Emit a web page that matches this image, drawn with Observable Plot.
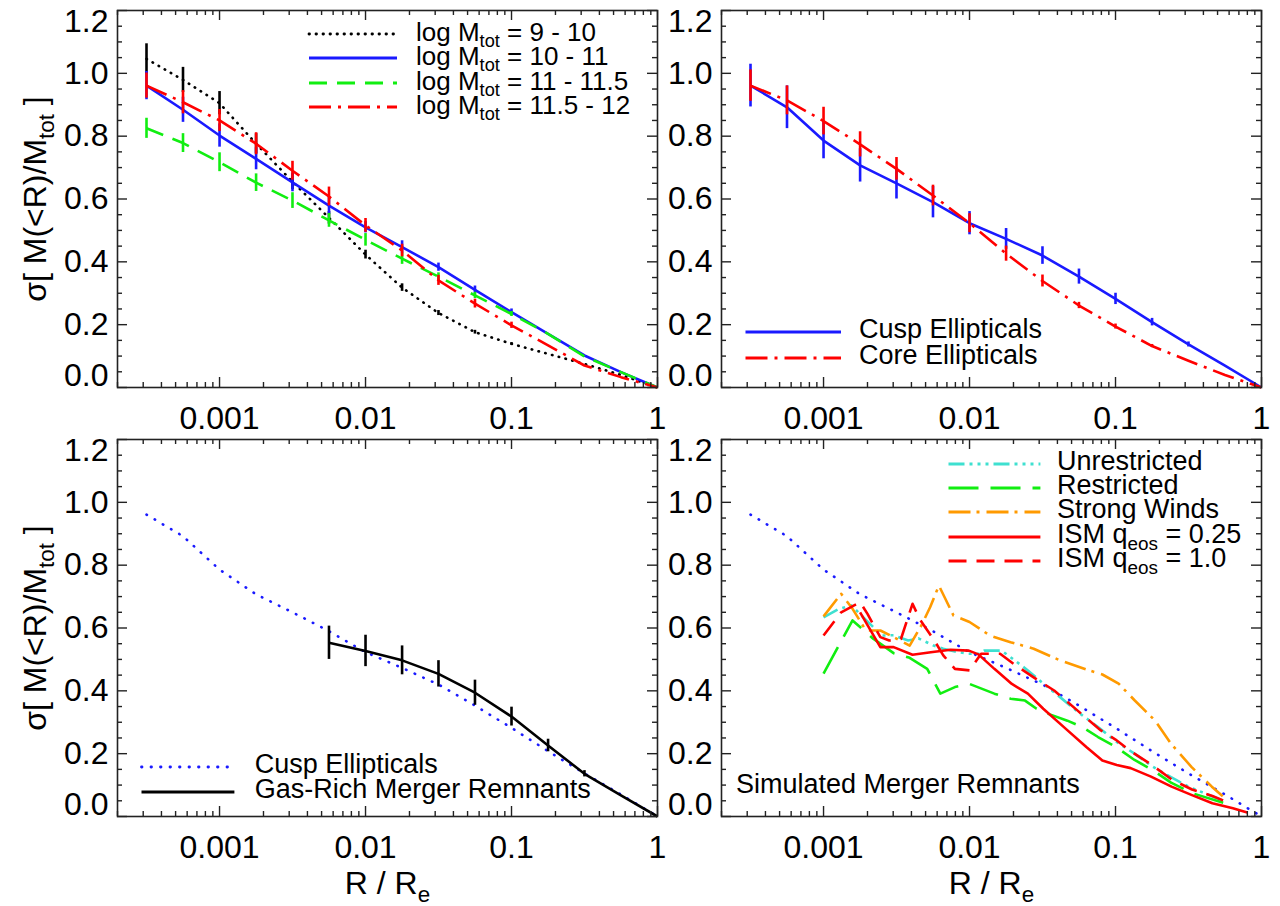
<!DOCTYPE html>
<html>
<head>
<meta charset="utf-8">
<script src="https://cdn.jsdelivr.net/npm/d3@7"></script>
<script src="https://cdn.jsdelivr.net/npm/@observablehq/plot@0.6"></script>
<style>
  html, body { margin: 0; padding: 0; background: #fff; }
  #chart { position: relative; width: 1280px; height: 906px; overflow: hidden; background: #fff; }
  #chart svg { position: absolute; overflow: visible; }
</style>
</head>
<body>
<div id="chart"></div>
<script>
// ---------------- data ----------------
const R = [0.000316, 0.000562, 0.001, 0.00178, 0.00316, 0.00562, 0.01, 0.0178, 0.0316, 0.0562, 0.1, 0.178, 0.316, 0.562, 1];

// Panel 1: mass bins
const mass9_10     = [1.046, 0.979, 0.905, 0.776, 0.655, 0.540, 0.423, 0.318, 0.237, 0.176, 0.139, 0.107, 0.075, 0.040, 0];
const mass9_10Err  = [0.048, 0.040, 0.037, 0.032, 0.025, 0.020, 0.014, 0.012, 0.008, 0.006, 0.004, 0, 0, 0, 0];
const mass10_11    = [0.961, 0.884, 0.802, 0.728, 0.653, 0.579, 0.510, 0.447, 0.383, 0.311, 0.240, 0.171, 0.102, 0.049, 0];
const mass10_11Err = [0.045, 0.040, 0.037, 0.035, 0.030, 0.028, 0.018, 0.020, 0.013, 0.012, 0.010, 0, 0, 0, 0];
const mass11_115   = [0.825, 0.778, 0.717, 0.652, 0.595, 0.532, 0.470, 0.410, 0.353, 0.293, 0.234, 0.171, 0.099, 0.049, 0];
const mass11_115Err= [0.032, 0.030, 0.030, 0.028, 0.025, 0.022, 0.020, 0.018, 0.012, 0.010, 0.008, 0, 0, 0, 0];
const mass115_12   = [0.961, 0.908, 0.850, 0.776, 0.690, 0.608, 0.516, 0.436, 0.341, 0.267, 0.198, 0.134, 0.070, 0.033, 0];
const mass115_12Err= [0.040, 0.037, 0.035, 0.035, 0.030, 0.030, 0.022, 0.020, 0.016, 0.014, 0.010, 0, 0, 0, 0];

// Panel 2: cusp / core ellipticals
const cusp    = [0.961, 0.892, 0.786, 0.707, 0.650, 0.590, 0.523, 0.473, 0.420, 0.353, 0.282, 0.208, 0.137, 0.070, 0];
const cuspErr = [0.068, 0.068, 0.058, 0.053, 0.050, 0.050, 0.037, 0.033, 0.028, 0.024, 0.018, 0.012, 0.008, 0, 0];
const core    = [0.961, 0.914, 0.848, 0.774, 0.696, 0.611, 0.523, 0.426, 0.339, 0.261, 0.194, 0.132, 0.085, 0.040, 0];
const coreErr = [0.050, 0.046, 0.044, 0.040, 0.036, 0.033, 0.030, 0.024, 0.019, 0.010, 0.008, 0.005, 0, 0, 0];

// Panel 3: gas-rich merger remnants
const gasR   = [0.00562, 0.01, 0.0178, 0.0316, 0.0562, 0.1, 0.178, 0.316, 0.562, 1];
const gasV   = [0.553, 0.527, 0.497, 0.454, 0.394, 0.318, 0.226, 0.136, 0.067, 0];
const gasErr = [0.053, 0.050, 0.046, 0.042, 0.040, 0.030, 0.020, 0.010, 0, 0];

// Panel 4: simulated remnants
const unrestrR = [0.00100, 0.00126, 0.00155, 0.00191, 0.00219, 0.00251, 0.00302, 0.00380, 0.00447, 0.00562, 0.00661, 0.00794, 0.00977, 0.0117, 0.0126, 0.0166, 0.0191, 0.0251, 0.0316, 0.0417, 0.0562, 0.0759, 0.100, 0.135, 0.178, 0.240, 0.316, 0.427, 0.562];
const unrestrV = [0.634, 0.660, 0.672, 0.630, 0.603, 0.576, 0.577, 0.560, 0.567, 0.545, 0.534, 0.525, 0.518, 0.518, 0.528, 0.528, 0.507, 0.465, 0.425, 0.380, 0.330, 0.285, 0.240, 0.200, 0.160, 0.125, 0.095, 0.070, 0.048];

const restrR = [0.00100, 0.00158, 0.00219, 0.00302, 0.00389, 0.00513, 0.00631, 0.00794, 0.0100, 0.0148, 0.0191, 0.0240, 0.0288, 0.0355, 0.0468, 0.0589, 0.0759, 0.100, 0.135, 0.178, 0.240, 0.331, 0.575];
const restrV = [0.455, 0.624, 0.566, 0.520, 0.505, 0.470, 0.391, 0.412, 0.422, 0.391, 0.375, 0.369, 0.343, 0.325, 0.305, 0.285, 0.253, 0.222, 0.180, 0.149, 0.108, 0.075, 0.041];

const windsR = [0.00100, 0.00132, 0.00158, 0.00195, 0.00245, 0.00302, 0.00389, 0.00468, 0.00537, 0.00617, 0.00776, 0.0100, 0.0138, 0.0191, 0.0275, 0.0417, 0.0631, 0.0813, 0.105, 0.135, 0.186, 0.240, 0.331, 0.457, 0.562];
const windsV = [0.637, 0.709, 0.661, 0.592, 0.592, 0.571, 0.544, 0.608, 0.666, 0.735, 0.640, 0.619, 0.576, 0.555, 0.534, 0.497, 0.468, 0.452, 0.423, 0.370, 0.306, 0.232, 0.158, 0.095, 0.058];

const ism025R = [0.00178, 0.00245, 0.00302, 0.00407, 0.00543, 0.00741, 0.00989, 0.0115, 0.0148, 0.0195, 0.0251, 0.0320, 0.0457, 0.0631, 0.0813, 0.102, 0.127, 0.175, 0.242, 0.334, 0.461, 0.637, 0.798];
const ism025V = [0.650, 0.539, 0.539, 0.515, 0.523, 0.531, 0.528, 0.516, 0.470, 0.422, 0.391, 0.343, 0.279, 0.221, 0.178, 0.164, 0.154, 0.127, 0.095, 0.068, 0.042, 0.026, 0.013];

const ism10R = [0.00100, 0.00132, 0.00178, 0.00200, 0.00245, 0.00282, 0.00339, 0.00407, 0.00457, 0.00575, 0.00661, 0.00794, 0.0100, 0.0120, 0.0162, 0.0200, 0.0275, 0.0380, 0.0550, 0.0794, 0.100, 0.127, 0.175, 0.242, 0.334, 0.461, 0.597];
const ism10V = [0.576, 0.650, 0.682, 0.645, 0.571, 0.560, 0.565, 0.677, 0.627, 0.560, 0.513, 0.470, 0.465, 0.518, 0.518, 0.486, 0.443, 0.401, 0.337, 0.274, 0.245, 0.208, 0.166, 0.118, 0.086, 0.065, 0.044];

// tick labels
const xTickLabels = [0.001, 0.01, 0.1, 1];
const yTickLabels = [0, 0.2, 0.4, 0.6, 0.8, 1.0, 1.2];

// ---------------- styling ----------------
const FONT = '"Liberation Sans", Arial, Helvetica, sans-serif';
const INK = "#222";
const BLUE = "#1a1aff", RED = "#ff0000", GREEN = "#11ee11", CYAN = "#3ee0d0", ORANGE = "#ff9a00", BLACK = "#000";
const DOT = "0.5,6.5", DASH = "18,10", DASHDOT = "22,7,3,7", LONGDASH = "30,12", DASH3DOT = "16,5,3,5,3,5,3,5", ODASHDOT = "22,6,3,7";
const LW = 2.6;

const xDomain = [2e-4, 1];
const yDomain = [0, 1.2];
const isDecade = d => Math.abs(Math.log10(d) - Math.round(Math.log10(d))) < 1e-9;
const xAllTicks = d3.scaleLog().domain(xDomain).ticks();
const xMinor = xAllTicks.filter(d => !isDecade(d));
const xMajor = xAllTicks.filter(d => isDecade(d));
const yAll = d3.range(0, 24 + 1).map(i => i * 0.05);
const yMinor = yAll.filter((d, i) => i % 4 !== 0);
const yMajor = yAll.filter((d, i) => i % 4 === 0);

const rows = (xs, ys, es) => xs.map((r, i) => ({r, v: ys[i], e: es ? es[i] : 0}));

function series(xs, ys, es, stroke, dash, cap = "butt") {
  const d = rows(xs, ys, es);
  const m = [Plot.line(d, {x: "r", y: "v", stroke, strokeWidth: LW, strokeDasharray: dash, strokeLinecap: cap, strokeLinejoin: "round"})];
  if (es) m.push(Plot.ruleX(d.filter(p => p.e > 0), {x: "r", y1: p => p.v - p.e, y2: p => p.v + p.e, stroke, strokeWidth: LW}));
  return m;
}

function subscripts(svg) {
  svg.querySelectorAll("text").forEach(t => {
    const s = t.textContent;
    if (!s.includes("_{")) return;
    const parts = s.split(/_\{([^}]*)\}/);
    while (t.firstChild) t.removeChild(t.firstChild);
    let afterSub = false;
    parts.forEach((p, i) => {
      if (p === "" && i % 2 === 0) return;
      const ts = document.createElementNS("http://www.w3.org/2000/svg", "tspan");
      ts.textContent = p;
      if (i % 2 === 1) { ts.setAttribute("font-size", "70%"); ts.setAttribute("dy", "0.35em"); afterSub = true; }
      else if (afterSub) { ts.setAttribute("dy", "-0.245em"); afterSub = false; }
      t.appendChild(ts);
    });
  });
}

function legend(svg, items, {x1, x2, xt, ys, off = 7, size = 27}) {
  const g = d3.select(svg).append("g").attr("font-family", FONT).attr("font-size", size).attr("text-anchor", "start").attr("fill", "#000");
  items.forEach((it, i) => {
    g.append("line").attr("x1", x1).attr("x2", x2).attr("y1", ys[i]).attr("y2", ys[i])
      .attr("stroke", it.stroke).attr("stroke-width", 2.8)
      .attr("stroke-dasharray", it.dash || null)
      .attr("stroke-linecap", it.cap || "butt");
    g.append("text").attr("x", xt).attr("y", ys[i] + off).text(it.label);
  });
  return g;
}

function panel({left, top, width, height, mL, mR, mT, mB, data, yTitle, xTitle}) {
  const W = width - mL - mR, H = height - mT - mB;
  const tickStyle = {stroke: INK, strokeWidth: 1.4};
  const lab = {fontSize: 32, fontFamily: FONT, fill: "#000", label: null, tickSize: 0};
  const marks = [
    ...data,
    Plot.tickX(xMinor, {x: d => d, insetTop: H - 5, ...tickStyle}),
    Plot.tickX(xMinor, {x: d => d, insetBottom: H - 5, ...tickStyle}),
    Plot.tickX(xMajor, {x: d => d, insetTop: H - 10, ...tickStyle}),
    Plot.tickX(xMajor, {x: d => d, insetBottom: H - 10, ...tickStyle}),
    Plot.tickY(yMinor, {y: d => d, insetRight: W - 5, ...tickStyle}),
    Plot.tickY(yMinor, {y: d => d, insetLeft: W - 5, ...tickStyle}),
    Plot.tickY(yMajor, {y: d => d, insetRight: W - 10, ...tickStyle}),
    Plot.tickY(yMajor, {y: d => d, insetLeft: W - 10, ...tickStyle}),
    Plot.frame({stroke: INK, strokeWidth: 1.6}),
    Plot.axisX(xTickLabels, {anchor: "bottom", tickPadding: 19, tickFormat: d3.format("~g"), ...lab}),
    Plot.axisY(yTickLabels.filter(d => d > 0 && d < 1.2), {anchor: "left", tickPadding: 9, tickFormat: d3.format(".1f"), ...lab}),
    Plot.axisY([1.2], {anchor: "left", tickPadding: 9, tickFormat: d3.format(".1f"), dy: 11, ...lab}),
    Plot.axisY([0], {anchor: "left", tickPadding: 9, tickFormat: d3.format(".1f"), dy: -12, ...lab})
  ];
  if (yTitle) marks.push(Plot.text([yTitle], {text: d => d, frameAnchor: "left", textAnchor: "middle", lineAnchor: "middle", dx: -82, rotate: -90, fontSize: 32, fontFamily: FONT, fill: "#000"}));
  if (xTitle) marks.push(Plot.text([xTitle], {text: d => d, frameAnchor: "bottom", textAnchor: "middle", lineAnchor: "middle", dy: 67, fontSize: 32, fontFamily: FONT, fill: "#000"}));
  const svg = Plot.plot({
    width, height, marginLeft: mL, marginRight: mR, marginTop: mT, marginBottom: mB,
    x: {type: "log", domain: xDomain, axis: null},
    y: {domain: yDomain, axis: null},
    style: {background: "transparent", overflow: "visible", fontFamily: FONT},
    marks
  });
  svg.style.left = left + "px";
  svg.style.top = top + "px";
  document.getElementById("chart").appendChild(svg);
  return svg;
}

const Y_TITLE = "σ[ M(<R)/M_{tot} ]";
const X_TITLE = "R / R_{e}";

// Top-left
const p1 = panel({left: 0, top: 0, width: 680, height: 430, mL: 117, mR: 23, mT: 10, mB: 43,
  yTitle: Y_TITLE,
  data: [
    ...series(R, mass9_10, mass9_10Err, BLACK, DOT, "round"),
    ...series(R, mass10_11, mass10_11Err, BLUE, null),
    ...series(R, mass11_115, mass11_115Err, GREEN, DASH),
    ...series(R, mass115_12, mass115_12Err, RED, DASHDOT)
  ]});
legend(p1, [
  {label: "log M_{tot} = 9 - 10", stroke: BLACK, dash: DOT, cap: "round"},
  {label: "log M_{tot} = 10 - 11", stroke: BLUE},
  {label: "log M_{tot} = 11 - 11.5", stroke: GREEN, dash: DASH},
  {label: "log M_{tot} = 11.5 - 12", stroke: RED, dash: DASHDOT}
], {x1: 309, x2: 397, xt: 416, ys: [34, 58, 83, 107], size: 26});

// Top-right
const p2 = panel({left: 680, top: 0, width: 600, height: 430, mL: 41, mR: 19, mT: 10, mB: 43,
  data: [
    ...series(R, cusp, cuspErr, BLUE, null),
    ...series(R, core, coreErr, RED, DASHDOT)
  ]});
legend(p2, [
  {label: "Cusp Ellipticals", stroke: BLUE},
  {label: "Core Ellipticals", stroke: RED, dash: DASHDOT}
], {x1: 65.5, x2: 161, xt: 179, ys: [332, 358], off: 6});

// Bottom-left
const p3 = panel({left: 0, top: 430, width: 680, height: 476, mL: 117, mR: 23, mT: 9, mB: 90,
  yTitle: Y_TITLE, xTitle: X_TITLE,
  data: [
    ...series(R, cusp, null, BLUE, "0.5,9", "round"),
    ...series(gasR, gasV, gasErr, BLACK, null)
  ]});
legend(p3, [
  {label: "Cusp Ellipticals", stroke: BLUE, dash: "0.5,9", cap: "round"},
  {label: "Gas-Rich Merger Remnants", stroke: BLACK}
], {x1: 141.5, x2: 234.4, xt: 254.7, ys: [337, 362], off: 6});

// Bottom-right
const p4 = panel({left: 680, top: 430, width: 600, height: 476, mL: 41, mR: 19, mT: 9, mB: 90,
  xTitle: X_TITLE,
  data: [
    ...series(R, cusp, null, BLUE, "0.5,9", "round"),
    ...series(unrestrR, unrestrV, null, CYAN, DASH3DOT),
    ...series(restrR, restrV, null, GREEN, LONGDASH),
    ...series(windsR, windsV, null, ORANGE, ODASHDOT),
    ...series(ism025R, ism025V, null, RED, null),
    ...series(ism10R, ism10V, null, RED, DASH)
  ]});
const lg4 = legend(p4, [
  {label: "Unrestricted", stroke: CYAN, dash: DASH3DOT},
  {label: "Restricted", stroke: GREEN, dash: LONGDASH},
  {label: "Strong Winds", stroke: ORANGE, dash: ODASHDOT},
  {label: "ISM q_{eos} = 0.25", stroke: RED},
  {label: "ISM q_{eos} = 1.0", stroke: RED, dash: DASH}
], {x1: 268.5, x2: 360.4, xt: 377, ys: [34, 58, 82, 107, 131], off: 6});
lg4.append("text").attr("x", 56).attr("y", 363).text("Simulated Merger Remnants");

[p1, p2, p3, p4].forEach(subscripts);
</script>
</body>
</html>
